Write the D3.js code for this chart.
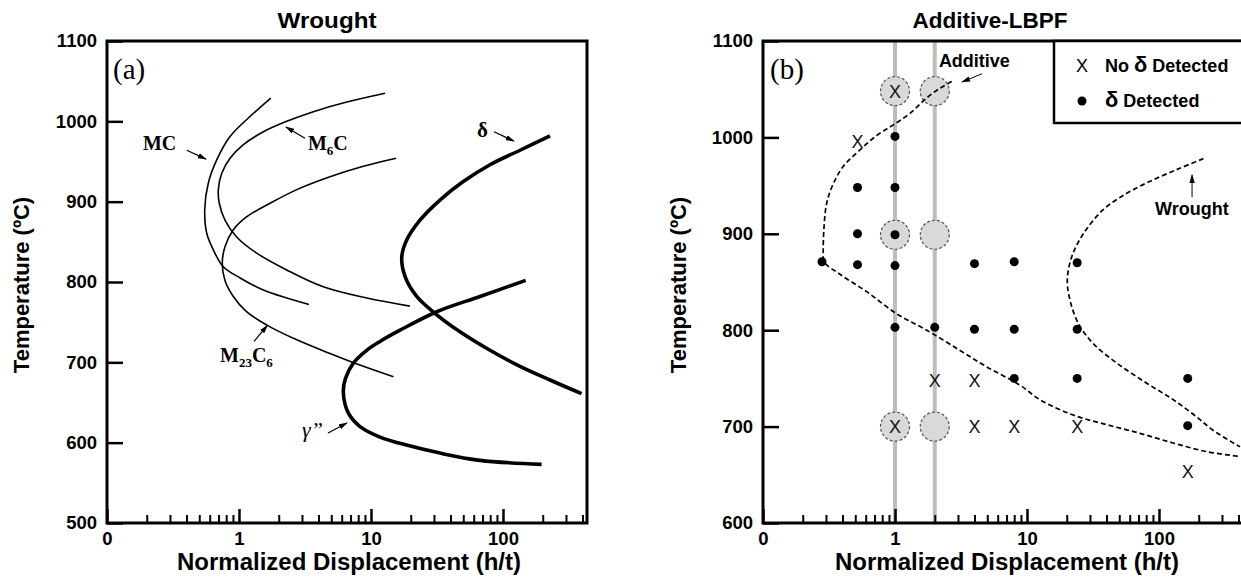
<!DOCTYPE html>
<html><head><meta charset="utf-8">
<script src="https://cdn.jsdelivr.net/npm/d3@7"></script>
<style>
body{margin:0;background:#fff;}
svg{display:block;}
</style></head><body>
<svg id="chart" width="1241" height="578"></svg>
<script>
// ---------------- DATA ----------------
const xTickValues = [0.1, 1, 10, 100];
const xTickLabels = ["0", "1", "10", "100"];
const xMinorTicks = [0.2,0.3,0.4,0.5,0.6,0.7,0.8,0.9,2,3,4,5,6,7,8,9,20,30,40,50,60,70,80,90,200,300,400];
const yTicksWrought = [500,600,700,800,900,1000,1100];
const yTicksAdditive = [600,700,800,900,1000,1100];

// Panel (a) curves: [h/t, temperature]
const mcCurve = [[1.74,1029],[1.14,1002],[0.855,981],[0.678,952],[0.585,923],[0.55,890],[0.569,861],[0.639,840],[0.76,819],[1.02,805],[1.53,790],[2.30,780],[3.39,772]];
const m6cCurve = [[12.8,1035],[6.55,1024],[3.66,1012],[2.30,1000],[1.53,987],[1.08,971],[0.855,954],[0.739,935],[0.697,915],[0.709,898],[0.783,877],[0.96,856],[1.36,836],[2.30,815],[4.35,794],[9.27,780],[19.7,770]];
const m23c6Curve = [[15.5,954],[8.75,944],[4.89,931],[2.74,915],[1.72,898],[1.14,881],[0.906,865],[0.783,844],[0.747,823],[0.783,802],[0.906,782],[1.14,763],[1.64,746],[2.74,728],[4.89,711],[8.75,695],[14.8,682]];
const deltaCurve = [[227,982],[134.5,964],[79.7,946],[50,925],[33.3,902],[23.5,877],[18.6,852],[17.1,831],[18.1,807],[22.2,782],[30.5,761],[47.2,738],[79.7,715],[134.5,695],[227,678],[394,661]];
const gammaCurve = [[148.6,802],[67,782],[31.5,763],[16.6,740],[11.7,726],[9.27,715],[7.35,699],[6.41,680],[6.17,663],[6.73,637],[8.26,620],[11.7,607],[18.6,597],[33.3,587],[67,578],[196,573]];

// Panel (b)
const additiveCurve = [[2.69,1058],[2.19,1051],[1.74,1041],[1.30,1025],[0.971,1013],[0.727,1002],[0.543,987],[0.406,970],[0.341,952],[0.304,932],[0.290,907],[0.286,880],[0.290,871],[0.383,858],[0.61,840],[1.03,817],[1.74,800],[3.11,779],[4.95,762],[8.85,743],[12.5,728],[22.4,712],[40.2,702],[71.8,693],[128,683],[230,674],[411,669]];
const wroughtCurve = [[217,978],[144,968],[90.5,956],[56.9,942],[37.8,925],[26.7,900],[21.8,876],[20.2,852],[21.2,831],[24.5,807],[31.8,786],[47.8,766],[80.7,745],[128,728],[193,710],[258,696],[411,679]];
const greyLineX = [1, 2];
const highlightPoints = [[1,1048],[2,1048],[1,899],[2,899],[1,700],[2,700]];
const noDeltaPoints = [[1,1048],[0.52,996],[2,748],[4,748],[1,700],[4,700],[8,700],[24,700],[165,653]];
const deltaPoints = [[1,1001],[0.52,948],[1,948],[0.52,900],[1,899],[0.28,871],[0.52,868],[1,867],[4,869],[8,871],[24,870],
  [1,803],[2,803],[4,801],[8,801],[24,801],[8,750],[24,750],[165,750],[165,701]];

// ---------------- LAYOUT ----------------
const svg = d3.select("#chart");
const defs = svg.append("defs");
defs.append("marker").attr("id","arr").attr("viewBox","0 0 10 6").attr("refX",9).attr("refY",3)
  .attr("markerWidth",9).attr("markerHeight",6).attr("markerUnits","userSpaceOnUse").attr("orient","auto")
  .append("path").attr("d","M0,0 L10,3 L0,6 Z").attr("fill","#000");

const plotTop = 41, plotBottom = 523, pw = 480, decade = 132;
const xMax = Math.pow(10, pw/decade - 1);
const xA = d3.scaleLog().domain([0.1, xMax]).range([107, 107+pw]);
const yA = d3.scaleLinear().domain([500,1100]).range([plotBottom, plotTop]);
const xB = d3.scaleLog().domain([0.1, xMax]).range([763, 763+pw]);
const yB = d3.scaleLinear().domain([600,1100]).range([plotBottom, plotTop]);

const FONT = '"Liberation Sans",Arial,sans-serif';
const SERIF = '"Liberation Serif","Times New Roman",serif';

function axes(x, y, yTicks) {
  const g = svg.append("g");
  const x0 = x.range()[0];
  const ya = g.append("g").attr("transform",`translate(${x0},0)`)
    .call(d3.axisLeft(y).tickValues(yTicks).tickSize(-16).tickPadding(10).tickFormat(d3.format("d")));
  const xa = g.append("g").attr("transform",`translate(0,${plotBottom})`)
    .call(d3.axisBottom(x).tickValues(xTickValues).tickSize(-14).tickPadding(9).tickFormat((d,i)=>xTickLabels[i]));
  const xm = g.append("g").attr("transform",`translate(0,${plotBottom})`)
    .call(d3.axisBottom(x).tickValues(xMinorTicks).tickSize(-8).tickFormat(""));
  [ya,xa,xm].forEach(a=>{
    a.select(".domain").remove();
    a.attr("font-family",FONT).attr("font-size",18.5).attr("font-weight","bold");
    a.selectAll("line").attr("stroke","#000").attr("stroke-width",2.5);
    a.selectAll("text").attr("fill","#000");
  });
  xm.selectAll("line").attr("stroke-width",2);
  g.append("rect").attr("x",x0).attr("y",plotTop).attr("width",pw).attr("height",plotBottom-plotTop)
    .attr("fill","none").attr("stroke","#000").attr("stroke-width",3);
}

function axisTitles(cx, cy, w) {
  svg.append("text").attr("x",cx).attr("y",570).attr("text-anchor","middle")
    .attr("font-family",FONT).attr("font-weight","bold").attr("font-size",23)
    .attr("textLength",w).attr("lengthAdjust","spacingAndGlyphs")
    .text("Normalized Displacement (h/t)");
  svg.append("text").attr("transform",`translate(${cy},285) rotate(-90)`).attr("text-anchor","middle")
    .attr("font-family",FONT).attr("font-weight","bold").attr("font-size",22)
    .text("Temperature (ºC)");
}

const line = (x,y) => d3.line().x(d=>x(d[0])).y(d=>y(d[1])).curve(d3.curveCatmullRom.alpha(0.5));

function arrow(x,y,p0,p1,w){
  svg.append("line").attr("x1",x(p0[0])).attr("y1",y(p0[1])).attr("x2",x(p1[0])).attr("y2",y(p1[1]))
    .attr("stroke","#000").attr("stroke-width",w||1.3).attr("marker-end","url(#arr)");
}
function serif(x,y,p,parts,size,weight,style){
  const t = svg.append("text").attr("x",x(p[0])).attr("y",y(p[1])).attr("font-family",SERIF)
    .attr("font-size",size).attr("font-weight",weight||"bold").attr("font-style",style||"normal");
  let prevSub=false;
  parts.forEach(([s,sub])=>{
    const ts = t.append("tspan").text(s);
    if (sub) ts.attr("font-size",size*0.65);
    ts.attr("dy", sub && !prevSub ? 5 : (!sub && prevSub ? -5 : 0));
    prevSub = sub;
  });
}

// ---------------- PANEL (a) ----------------
const ga = svg.append("g");
[[mcCurve,1.6],[m6cCurve,1.6],[m23c6Curve,1.6],[deltaCurve,3.6],[gammaCurve,3.6]].forEach(([c,w])=>{
  ga.append("path").attr("d",line(xA,yA)(c)).attr("fill","none").attr("stroke","#000").attr("stroke-width",w);
});
axes(xA, yA, yTicksWrought);
axisTitles(349, 29, 344);
svg.append("text").attr("x",327).attr("y",28).attr("text-anchor","middle").attr("font-family",FONT)
  .attr("font-weight","bold").attr("font-size",22).attr("textLength",99).attr("lengthAdjust","spacingAndGlyphs").text("Wrought");

svg.append("text").attr("x",xA(0.111)).attr("y",yA(1053)).attr("font-family",SERIF).attr("font-size",29).text("(a)");
serif(xA,yA,[0.187,964],[["MC",false]],20);
arrow(xA,yA,[0.402,964],[0.562,953]);
serif(xA,yA,[3.33,964],[["M",false],["6",true],["C",false]],20);
arrow(xA,yA,[3.16,979],[2.27,993]);
serif(xA,yA,[0.718,700],[["M",false],["23",true],["C",false],["6",true]],20);
arrow(xA,yA,[1.30,726],[1.64,746]);
serif(xA,yA,[3.0,607],[["γ”",false]],22,"normal","italic");
arrow(xA,yA,[4.72,612],[6.58,624.5]);
serif(xA,yA,[63.5,980.5],[["δ",false]],21);
arrow(xA,yA,[85.5,987],[121,975.5]);

// ---------------- PANEL (b) ----------------
const gb = svg.append("g");
greyLineX.forEach(v=>{
  gb.append("line").attr("x1",xB(v)).attr("x2",xB(v)).attr("y1",yB(1100)).attr("y2",yB(600))
    .attr("stroke","#bdbdbd").attr("stroke-width",4);
});
gb.selectAll("circle.hl").data(highlightPoints).join("circle").attr("class","hl")
  .attr("cx",d=>xB(d[0])).attr("cy",d=>yB(d[1])).attr("r",14.5)
  .attr("fill","#d9d9d9").attr("stroke","#555").attr("stroke-width",1.2).attr("stroke-dasharray","3,2");
[additiveCurve, wroughtCurve].forEach(c=>{
  gb.append("path").attr("d",line(xB,yB)(c)).attr("fill","none").attr("stroke","#000")
    .attr("stroke-width",1.7).attr("stroke-dasharray","5,3");
});
gb.selectAll("circle.dot").data(deltaPoints).join("circle").attr("class","dot")
  .attr("cx",d=>xB(d[0])).attr("cy",d=>yB(d[1])).attr("r",4.5).attr("fill","#000");
gb.selectAll("text.nx").data(noDeltaPoints).join("text").attr("class","nx")
  .attr("x",d=>xB(d[0])).attr("y",d=>yB(d[1])).attr("text-anchor","middle").attr("dy","0.36em")
  .attr("font-family",FONT).attr("font-size",18).attr("fill","#111").text("X");
axes(xB, yB, yTicksAdditive);
axisTitles(1007, 686, 344);
svg.append("text").attr("x",990).attr("y",28).attr("text-anchor","middle").attr("font-family",FONT)
  .attr("font-weight","bold").attr("font-size",22).attr("textLength",155).attr("lengthAdjust","spacingAndGlyphs").text("Additive-LBPF");
svg.append("text").attr("x",xB(0.113)).attr("y",yB(1060.6)).attr("font-family",SERIF).attr("font-size",29).text("(b)");
svg.append("text").attr("x",xB(2.15)).attr("y",yB(1073)).attr("font-family",FONT).attr("font-weight","bold")
  .attr("font-size",18).text("Additive");
arrow(xB,yB,[4.56,1066],[3.22,1057.5],1);
svg.append("text").attr("x",xB(93.3)).attr("y",yB(919.5)).attr("font-family",FONT).attr("font-weight","bold")
  .attr("font-size",18).text("Wrought");
arrow(xB,yB,[178,938],[178,961],1);

// legend
const lg = svg.append("g");
lg.append("rect").attr("x",1054).attr("y",41).attr("width",200).attr("height",82)
  .attr("fill","#fff").attr("stroke","#000").attr("stroke-width",2.5);
lg.append("text").attr("x",1082).attr("y",66).attr("dy","0.36em").attr("text-anchor","middle")
  .attr("font-family",FONT).attr("font-size",18).text("X");
lg.append("circle").attr("cx",1082).attr("cy",101).attr("r",4.5).attr("fill","#000");
const t1 = lg.append("text").attr("x",1105).attr("y",66).attr("dy","0.36em").attr("font-family",FONT)
  .attr("font-weight","bold").attr("font-size",18);
t1.append("tspan").text("No ");
t1.append("tspan").attr("font-size",22).text("δ");
t1.append("tspan").text(" Detected");
const t2 = lg.append("text").attr("x",1105).attr("y",101).attr("dy","0.36em").attr("font-family",FONT)
  .attr("font-weight","bold").attr("font-size",18);
t2.append("tspan").attr("font-size",22).text("δ");
t2.append("tspan").text(" Detected");
</script>
</body></html>
